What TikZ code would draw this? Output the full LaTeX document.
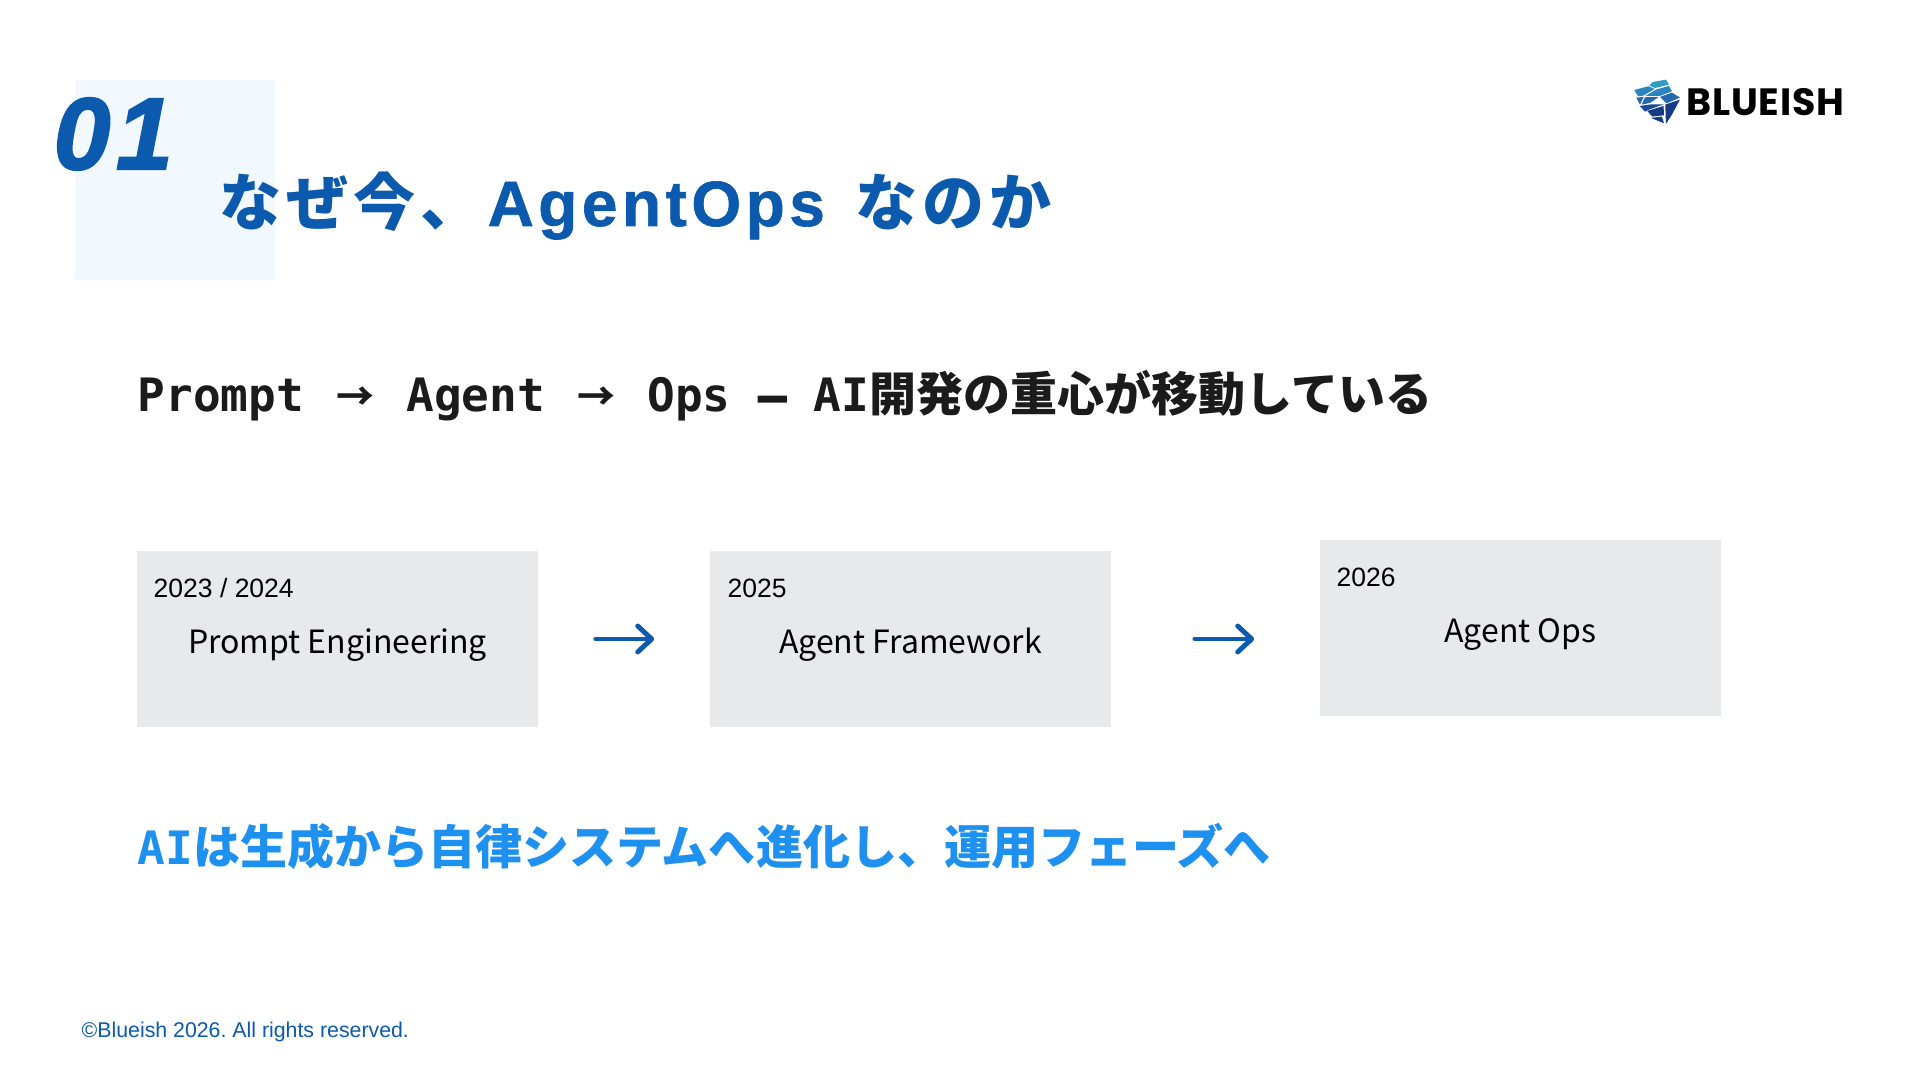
\documentclass[tikz,border=0pt]{standalone}
\usepackage{fontspec}
\setmainfont{Liberation Sans}
\newfontfamily\cjkfont{Noto Sans CJK JP}
\newfontfamily\titlecjk[LetterSpace=8]{Noto Sans CJK JP}
\newfontfamily\titlelatin[LetterSpace=7, BoldFeatures={FakeBold=1}]{Liberation Sans}
\newfontfamily\numfont[BoldItalicFeatures={FakeBold=2}]{Liberation Sans}
\newfontfamily\brandfont[LetterSpace=2]{Poppins}
\newfontfamily\monofont{DejaVu Sans Mono}
\newfontfamily\dashfont[BoldFeatures={FakeBold=3}]{DejaVu Sans Mono}
\usetikzlibrary{positioning,arrows.meta}
\definecolor{ink}{HTML}{1B1B1B}
\definecolor{deepBlue}{HTML}{0B5AAD}
\definecolor{skyBlue}{HTML}{1E90F0}
\definecolor{paleBlue}{HTML}{F1F8FE}
\definecolor{boxGray}{HTML}{E8E9EB}
\definecolor{logoTeal}{HTML}{2F9CC6}
\definecolor{logoSky}{HTML}{2A84BE}
\definecolor{logoMid}{HTML}{2468B0}
\definecolor{logoDeep}{HTML}{1B4A98}
\definecolor{logoNavy}{HTML}{173A84}
\newcommand{\pxsize}[1]{\fontsize{\dimexpr#1pt*2845/10000\relax}{\dimexpr#1pt*3/10\relax}\selectfont}
\newcommand{\leadarrow}{\makebox[13.4pt][c]{\raisebox{0.4pt}{\cjkfont\bfseries\pxsize{38}→}}}
\tikzset{
  stagebox/.style={rectangle, fill=boxGray, minimum width=4.01cm, minimum height=1.76cm, inner sep=0pt},
  yearlbl/.style={anchor=west, inner sep=0pt, text=black, font=\pxsize{26.5}},
  stagelbl/.style={inner sep=0pt, text=black, font=\cjkfont\pxsize{32}},
  flowarrow/.style={-{Straight Barb[length=1.4mm, width=2.6mm, round]}, deepBlue, line width=1.4pt, line cap=round},
  headlbl/.style={anchor=west, inner sep=0pt},
}
\begin{document}
\begin{tikzpicture}[x=0.01cm, y=-0.01cm]
\useasboundingbox (0,0) rectangle (1920,1080);
\fill[white] (0,0) rectangle (1920,1080);
% heading
\fill[paleBlue] (75,80) rectangle (275,280);
\node[headlbl, text=deepBlue, font=\numfont\bfseries\itshape\pxsize{102}] (secno) at (53,134) {0\kern1.6pt 1};
\node[headlbl, text=deepBlue, font=\bfseries\pxsize{62}] (title) at (219,206) {\titlecjk なぜ今、\kern1.4pt{\titlelatin\bfseries\pxsize{64}AgentOps }\kern2.5pt\titlecjk なのか};
% logo
\begin{scope}[shift={(1630,76)}, x=0.00333cm, y=-0.00333cm]
\fill[logoTeal] (58,29) -- (68,18) -- (108,11) -- (117,26) -- (76,36) -- cycle;
\fill[logoSky] (13,42) -- (55,31) -- (74,39) -- (40,59) -- (24,61) -- cycle;
\fill[logoSky] (78,41) -- (117,30) -- (126,46) -- (90,60) -- (46,60) -- cycle;
\fill[logoMid] (19,65) -- (41,63) -- (30,86) -- cycle;
\fill[logoMid] (45,64) -- (86,63) -- (60,81) -- (35,86) -- cycle;
\fill[logoMid] (90,63) -- (126,50) -- (150,65) -- (110,82) -- cycle;
\fill[logoDeep] (29,90) -- (65,85) -- (102,85) -- (60,100) -- (45,107) -- cycle;
\fill[logoNavy] (106,86) -- (150,71) -- (126,116) -- (108,144) -- cycle;
\fill[logoNavy] (52,105) -- (101,90) -- (102,118) -- (67,122) -- cycle;
\fill[logoNavy] (63,126) -- (96,122) -- (102,142) -- (75,131) -- cycle;
\end{scope}
\node[headlbl, text=black, font=\brandfont\bfseries\pxsize{38}] (brand) at (1686,102) {BLUEISH};
% lead line
\node[headlbl, text=ink, font=\cjkfont\bfseries\pxsize{47}] (lead) at (137,396) {{\monofont\bfseries\pxsize{46}Prompt \leadarrow{} Agent \leadarrow{} Ops {\dashfont –} AI}開発の重心が移動している};
% stages
\node[stagebox] (box1) at (337.5,639) {};
\node[stagebox] (box2) at (910.5,639) {};
\node[stagebox] (box3) at (1520.5,628) {};
\node[yearlbl] (year1) at (153,588) {2023 / 2024};
\node[yearlbl] (year2) at (727,588) {2025};
\node[yearlbl] (year3) at (1336,577) {2026};
\node[stagelbl] (stage1) at (337.5,645) {Prompt Engineering};
\node[stagelbl] (stage2) at (910.5,645) {Agent Framework};
\node[stagelbl] (stage3) at (1520.5,634.5) {Agent Ops};
\draw[flowarrow, shorten <=57pt*0.2845, shorten >=55pt*0.2845] (box1.east) -- (box1 -| box2.west);
\draw[flowarrow, shorten <=83pt*0.2845, shorten >=65pt*0.2845] (box2.east) -- (box2 -| box3.west);
% closing line
\node[headlbl, text=skyBlue, font=\cjkfont\bfseries\pxsize{47}] (closing) at (137,846) {{\monofont\bfseries\pxsize{46}AI}は生成から自律システムへ進化し、運用フェーズへ};
\node[headlbl, text=deepBlue, font=\frenchspacing\pxsize{21.3}] (footer) at (81,1032) {©Blueish 2026. All rights reserved.};
\end{tikzpicture}
\end{document}
